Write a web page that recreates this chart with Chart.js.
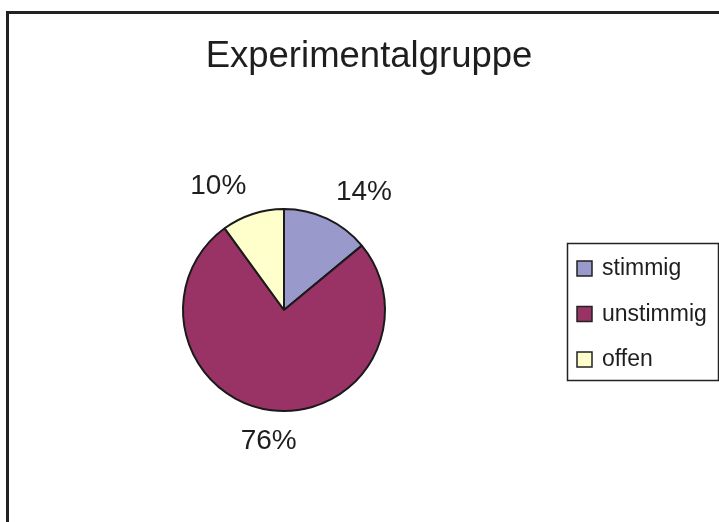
<!DOCTYPE html>
<html>
<head>
<meta charset="utf-8">
<script src="https://cdn.jsdelivr.net/npm/chart.js@4/dist/chart.umd.min.js"></script>
<style>
  html, body { margin: 0; padding: 0; background: #fff; }
  canvas { display: block; }
</style>
</head>
<body>
<canvas id="pieChart" width="719" height="522"></canvas>
<script>
// Daten
const chartTitle = "Experimentalgruppe";
const categories = ["stimmig", "unstimmig", "offen"];
const values = [14, 76, 10];
const sliceColors = ["#9999CC", "#993366", "#FFFFCC"];

const FONT = "'Liberation Sans', Arial, sans-serif";

// Rahmen, Titel, Prozentwerte und Legende selbst zeichnen
const decorPlugin = {
  id: "decor",
  afterDraw(chart) {
    const ctx = chart.ctx;
    ctx.save();

    // Rahmen (rechts/unten abgeschnitten)
    ctx.strokeStyle = "#222";
    ctx.lineWidth = 3;
    ctx.strokeRect(7.5, 12.5, 800, 600);

    // Titel
    ctx.fillStyle = "#1e1e1e";
    ctx.font = "36.5px " + FONT;
    ctx.textAlign = "center";
    ctx.textBaseline = "alphabetic";
    ctx.fillText(chartTitle, 369, 67);

    // Prozentwerte außerhalb der Segmente
    const meta = chart.getDatasetMeta(0);
    const total = values.reduce((a, b) => a + b, 0);
    ctx.font = "28px " + FONT;
    meta.data.forEach((arc, i) => {
      const mid = (arc.startAngle + arc.endAngle) / 2;
      const cos = Math.cos(mid), sin = Math.sin(mid);
      const dist = arc.outerRadius + 21;
      const x = arc.x + cos * dist;
      const y = arc.y + sin * dist;
      ctx.textAlign = cos > 0.2 ? "left" : (cos < -0.2 ? "right" : "center");
      ctx.textBaseline = sin < 0 ? "alphabetic" : "top";
      const pct = Math.round(values[i] / total * 100) + "%";
      ctx.fillText(pct, x, sin < 0 ? y : y - 4);
    });

    // Legende mit Rahmen
    const lx = 567, ly = 243, lw = 152, lh = 138;
    ctx.fillStyle = "#fff";
    ctx.fillRect(lx, ly, lw, lh);
    ctx.lineWidth = 1.5;
    ctx.strokeStyle = "#222";
    ctx.strokeRect(lx + 0.5, ly + 0.5, lw - 1, lh - 1);
    ctx.font = "23px " + FONT;
    ctx.textAlign = "left";
    ctx.textBaseline = "middle";
    categories.forEach((label, i) => {
      const cy = 268 + i * 45.5;
      ctx.fillStyle = sliceColors[i];
      ctx.fillRect(577, cy - 7, 15, 15);
      ctx.strokeStyle = "#222";
      ctx.lineWidth = 1.5;
      ctx.strokeRect(577, cy - 7, 15, 15);
      ctx.fillStyle = "#1e1e1e";
      ctx.fillText(label, 602, cy + 1);
    });

    ctx.restore();
  }
};

new Chart(document.getElementById("pieChart"), {
  type: "pie",
  data: {
    labels: categories,
    datasets: [{
      data: values,
      backgroundColor: sliceColors,
      borderColor: "#1a1a1a",
      borderWidth: 2
    }]
  },
  options: {
    responsive: false,
    animation: false,
    devicePixelRatio: 1,
    layout: {
      padding: { left: 182, top: 208, right: 333, bottom: 110 }
    },
    plugins: {
      legend: { display: false },
      title: { display: false },
      tooltip: { enabled: false }
    }
  },
  plugins: [decorPlugin]
});
</script>
</body>
</html>
